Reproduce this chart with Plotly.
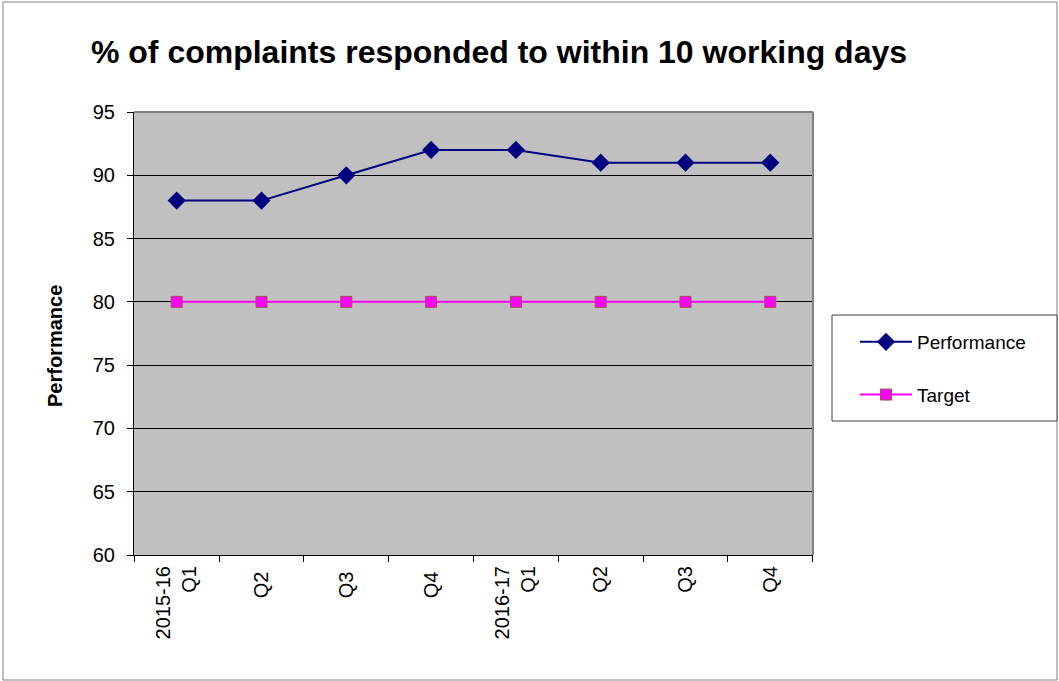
import plotly.graph_objects as go

categories = ["2015-16<br>Q1", "Q2 ", "Q3 ", "Q4 ", "2016-17<br>Q1", "Q2", "Q3", "Q4"]
performance = [88, 88, 90, 92, 92, 91, 91, 91]
target = [80, 80, 80, 80, 80, 80, 80, 80]

W, H = 1059, 681
L, R, T, B = 134, 813, 112, 555
pw, ph = R - L, B - T

def px(x):
    return (x - L) / pw

def py(y):
    return (B - y) / ph

FONT = "Liberation Sans, Arial, sans-serif"

fig = go.Figure()
fig.add_trace(go.Scatter(
    x=categories, y=performance, name="Performance", mode="lines+markers",
    line=dict(color="#000080", width=2),
    marker=dict(symbol="diamond", size=14, color="#000080", line=dict(width=0)),
    legendgroup="a",
))
fig.add_trace(go.Scatter(
    x=categories, y=target, name="Target", mode="lines+markers",
    line=dict(color="#FF00FF", width=2),
    marker=dict(symbol="square", size=11, color="#FF00FF", line=dict(color="#A05050", width=1)),
    legendgroup="b",
))

fig.update_layout(
    width=W, height=H,
    margin=dict(l=L, r=W - R, t=T, b=H - B),
    paper_bgcolor="white",
    plot_bgcolor="#C0C0C0",
    font=dict(family=FONT, color="black", size=20),
    title=dict(text="<b>% of complaints responded to within 10 working days</b>",
               x=499 / W, xanchor="center", y=1 - 52 / H, yanchor="middle",
               font=dict(size=32, family=FONT)),
    showlegend=True,
    legend=dict(x=px(855), xanchor="left", y=py(323), yanchor="top",
                borderwidth=0, bgcolor="rgba(0,0,0,0)",
                font=dict(size=19), tracegroupgap=25, itemwidth=52),
    xaxis=dict(
        type="category", showgrid=False, showline=True, linecolor="black", linewidth=1,
        ticks="outside", tickson="boundaries", ticklen=6, tickcolor="black",
        tickangle=-90, tickfont=dict(size=20), zeroline=False, ticklabelstandoff=2,
    ),
    yaxis=dict(
        range=[60, 95], dtick=5, showgrid=True, gridcolor="black", gridwidth=1,
        showline=True, linecolor="black", linewidth=1, ticks="outside", ticklen=6,
        tickcolor="black", tickfont=dict(size=20), zeroline=False, ticklabelstandoff=8,
    ),
    annotations=[
        dict(text="<b>Performance</b>", xref="paper", yref="paper",
             x=px(55), y=py(346), xanchor="center", yanchor="middle",
             textangle=-90, showarrow=False, font=dict(size=20, family=FONT)),
    ],
    shapes=[
        dict(type="line", xref="paper", yref="paper", x0=0, x1=1, y0=1, y1=1,
             line=dict(color="#808080", width=2)),
        dict(type="line", xref="paper", yref="paper", x0=1, x1=1, y0=0, y1=1,
             line=dict(color="#808080", width=2)),
        dict(type="rect", xref="paper", yref="paper", x0=px(3), x1=px(1057),
             y0=py(680), y1=py(2), line=dict(color="#808080", width=1), layer="below"),
        dict(type="rect", xref="paper", yref="paper", x0=px(832), x1=px(1057),
             y0=py(421), y1=py(315), line=dict(color="#404040", width=1),
             fillcolor="white", layer="below"),
    ],
)

fig.write_html("out.html")
